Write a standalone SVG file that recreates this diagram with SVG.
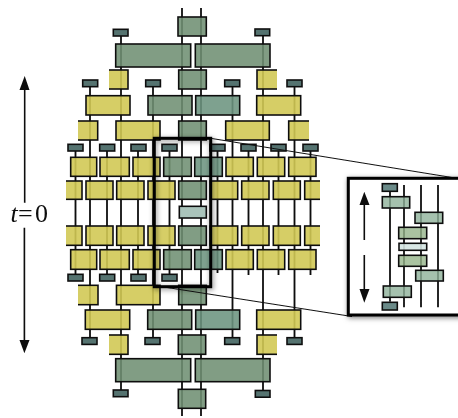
<svg xmlns="http://www.w3.org/2000/svg" width="458" height="418" viewBox="0 0 458 418">
<style>
.w{stroke:#111;stroke-width:1.8;fill:none}
.l{stroke:#111;stroke-width:1;fill:none}
.a{stroke:#111;stroke-width:1.6;fill:none}
.h{fill:#111;stroke:none}
rect{stroke:#111;stroke-width:1.6}
rect.fr{stroke:#000;stroke-width:3;fill:none}
rect.ins{stroke:#000;stroke-width:3;fill:#fff}
.g{fill:#6f8f72;fill-opacity:.88}
.b{fill:#6c9480;fill-opacity:.88}
.y{fill:#d2c954;fill-opacity:.9}
.c{fill:#557370}
.p{fill:#aac4bb}
.ig{fill:#8fb19a;fill-opacity:.8}
.im{fill:#95b48a;fill-opacity:.8}
.ip{fill:#d5e6e2;fill-opacity:.9}
.ic{fill:#6a8a88}
.t{font-family:"Liberation Serif",serif;font-size:26px;fill:#111}
</style>
<defs>
<filter id="soft" x="-5%" y="-5%" width="110%" height="110%"><feGaussianBlur stdDeviation="0.35"/></filter>
<filter id="sh" x="-20%" y="-20%" width="140%" height="140%"><feDropShadow dx="1" dy="1.5" stdDeviation="2.500" flood-color="#000" flood-opacity=".5"/></filter>
<clipPath id="r3"><rect x="109" y="60" width="168" height="300"/></clipPath>
<clipPath id="r5"><rect x="78" y="100" width="231" height="220"/></clipPath>
<clipPath id="r7"><rect x="66" y="170" width="254" height="90"/></clipPath>
</defs>
<g filter="url(#soft)">
<g id="connectors">
<path class="w" d="M182 8V416M201 8V416M121 32V393M263 32V393M90 83V341M153 83V341M232.500 83V341M294.500 83V341M75.500 147V277M107 147V277M138 147V277M169.500 147V277M217.500 147V273M248.500 147V275M278.500 147V275M310.500 147V275"/>
</g>
<g id="nodes">
<g id="n-top"><rect class="g" x="178" y="17" width="28.300" height="19"/></g>
<g id="n-cap-t1"><rect class="c" x="113.300" y="29.300" width="14.700" height="6.700"/></g>
<g id="n-cap-t2"><rect class="c" x="255" y="29" width="14.700" height="6.700"/></g>
<g id="n-r2a"><rect class="g" x="115.700" y="44" width="75" height="23"/></g>
<g id="n-r2b"><rect class="g" x="195.300" y="44" width="74.700" height="23"/></g>
<g id="n-r3a"><rect class="y" x="100" y="70" width="28" height="19" clip-path="url(#r3)"/></g>
<g id="n-r3b"><rect class="g" x="178.700" y="70" width="27.600" height="19"/></g>
<g id="n-r3c"><rect class="y" x="257" y="70" width="30" height="19" clip-path="url(#r3)"/></g>
<g id="n-cap-a1"><rect class="c" x="82.700" y="80" width="15" height="6.700"/></g>
<g id="n-cap-a2"><rect class="c" x="145.700" y="80" width="14.700" height="6.700"/></g>
<g id="n-cap-a3"><rect class="c" x="224.700" y="80" width="15" height="6.700"/></g>
<g id="n-cap-a4"><rect class="c" x="287" y="80" width="15" height="6.700"/></g>
<g id="n-r4a"><rect class="y" x="86" y="95.700" width="44" height="19.300"/></g>
<g id="n-r4b"><rect class="g" x="148" y="95.700" width="44" height="19.300"/></g>
<g id="n-r4c"><rect class="b" x="195.700" y="95.700" width="44" height="19.300"/></g>
<g id="n-r4d"><rect class="y" x="256.700" y="95.700" width="44" height="19.300"/></g>
<g id="n-r5a"><rect class="y" x="68" y="121" width="29.700" height="19" clip-path="url(#r5)"/></g>
<g id="n-r5b"><rect class="y" x="116" y="121" width="44" height="19"/></g>
<g id="n-r5c"><rect class="g" x="178.700" y="121" width="27.600" height="19"/></g>
<g id="n-r5d"><rect class="y" x="225.700" y="121" width="43.600" height="19"/></g>
<g id="n-r5e"><rect class="y" x="288.700" y="121" width="30" height="19" clip-path="url(#r5)"/></g>
<g id="n-cap-b1"><rect class="c" x="68" y="144.300" width="15" height="6.700"/></g>
<g id="n-cap-b2"><rect class="c" x="99.700" y="144.300" width="15" height="6.700"/></g>
<g id="n-cap-b3"><rect class="c" x="131" y="144.300" width="15" height="6.700"/></g>
<g id="n-cap-b4"><rect class="c" x="162" y="144.300" width="15" height="6.700"/></g>
<g id="n-cap-b5"><rect class="c" x="210" y="144.300" width="15" height="6.700"/></g>
<g id="n-cap-b6"><rect class="c" x="241" y="144.300" width="15" height="6.700"/></g>
<g id="n-cap-b7"><rect class="c" x="271" y="144.300" width="15" height="6.700"/></g>
<g id="n-cap-b8"><rect class="c" x="303" y="144.300" width="15" height="6.700"/></g>
<g id="n-r6a"><rect class="y" x="70.700" y="157.300" width="26" height="19"/></g>
<g id="n-r6b"><rect class="y" x="100" y="157.300" width="29.300" height="19"/></g>
<g id="n-r6c"><rect class="y" x="133" y="157.300" width="27" height="19"/></g>
<g id="n-r6d"><rect class="g" x="163.700" y="157.300" width="27.600" height="19"/></g>
<g id="n-r6e"><rect class="b" x="194.700" y="157.300" width="27.600" height="19"/></g>
<g id="n-r6f"><rect class="y" x="226" y="157.300" width="27.300" height="19"/></g>
<g id="n-r6g"><rect class="y" x="257.300" y="157.300" width="27.400" height="19"/></g>
<g id="n-r6h"><rect class="y" x="288.700" y="157.300" width="27.300" height="19"/></g>
<g id="n-r7a"><rect class="y" x="56" y="181" width="26" height="18.300" clip-path="url(#r7)"/></g>
<g id="n-r7b"><rect class="y" x="86" y="181" width="27" height="18.300"/></g>
<g id="n-r7c"><rect class="y" x="116.700" y="181" width="27.300" height="18.300"/></g>
<g id="n-r7d"><rect class="y" x="148" y="181" width="27" height="18.300"/></g>
<g id="n-r7e"><rect class="g" x="178.700" y="181" width="27.600" height="18.300"/></g>
<g id="n-r7f"><rect class="y" x="210.300" y="181" width="27.400" height="18.300"/></g>
<g id="n-r7g"><rect class="y" x="241.700" y="181" width="27.300" height="18.300"/></g>
<g id="n-r7h"><rect class="y" x="273.300" y="181" width="27" height="18.300"/></g>
<g id="n-r7i"><rect class="y" x="304.700" y="181" width="26" height="18.300" clip-path="url(#r7)"/></g>
<g id="n-center"><rect class="p" x="179.300" y="206.300" width="27" height="11.700"/></g>
<g id="n-r8a"><rect class="y" x="56" y="226" width="26" height="19.300" clip-path="url(#r7)"/></g>
<g id="n-r8b"><rect class="y" x="86" y="226" width="27" height="19.300"/></g>
<g id="n-r8c"><rect class="y" x="116.700" y="226" width="27.300" height="19.300"/></g>
<g id="n-r8d"><rect class="y" x="148" y="226" width="27" height="19.300"/></g>
<g id="n-r8e"><rect class="g" x="178.700" y="226" width="27.600" height="19.300"/></g>
<g id="n-r8f"><rect class="y" x="210.300" y="226" width="27.400" height="19.300"/></g>
<g id="n-r8g"><rect class="y" x="241.700" y="226" width="27.300" height="19.300"/></g>
<g id="n-r8h"><rect class="y" x="273.300" y="226" width="27" height="19.300"/></g>
<g id="n-r8i"><rect class="y" x="304.700" y="226" width="26" height="19.300" clip-path="url(#r7)"/></g>
<g id="n-r9a"><rect class="y" x="70.700" y="249.700" width="26" height="19.600"/></g>
<g id="n-r9b"><rect class="y" x="100" y="249.700" width="29.300" height="19.600"/></g>
<g id="n-r9c"><rect class="y" x="133" y="249.700" width="27" height="19.600"/></g>
<g id="n-r9d"><rect class="g" x="163.700" y="249.700" width="27.600" height="19.600"/></g>
<g id="n-r9e"><rect class="b" x="194.700" y="249.700" width="27.600" height="19.600"/></g>
<g id="n-r9f"><rect class="y" x="226" y="249.700" width="27.300" height="19.600"/></g>
<g id="n-r9g"><rect class="y" x="257.300" y="249.700" width="27.400" height="19.600"/></g>
<g id="n-r9h"><rect class="y" x="288.700" y="249.700" width="27.300" height="19.600"/></g>
<g id="n-cap-c1"><rect class="c" x="68" y="274.300" width="15" height="6.700"/></g>
<g id="n-cap-c2"><rect class="c" x="99.700" y="274.300" width="15" height="6.700"/></g>
<g id="n-cap-c3"><rect class="c" x="131" y="274.300" width="15" height="6.700"/></g>
<g id="n-cap-c4"><rect class="c" x="162" y="274.300" width="15" height="6.700"/></g>
<g id="n-r10a"><rect class="y" x="68" y="285.300" width="30" height="19.400" clip-path="url(#r5)"/></g>
<g id="n-r10b"><rect class="y" x="116.500" y="285.300" width="43.500" height="19.400"/></g>
<g id="n-r10c"><rect class="g" x="178.700" y="285.300" width="27.600" height="19.400"/></g>
<g id="n-r11a"><rect class="y" x="85.300" y="310" width="44.400" height="19.300"/></g>
<g id="n-r11b"><rect class="g" x="147.700" y="310" width="44" height="19.300"/></g>
<g id="n-r11c"><rect class="b" x="195.700" y="310" width="44" height="19.300"/></g>
<g id="n-r11d"><rect class="y" x="256.700" y="310" width="44" height="19.300"/></g>
<g id="n-cap-d1"><rect class="c" x="82" y="337.700" width="15" height="6.700"/></g>
<g id="n-cap-d2"><rect class="c" x="145" y="337.700" width="15" height="6.700"/></g>
<g id="n-cap-d3"><rect class="c" x="224.700" y="337.700" width="15" height="6.700"/></g>
<g id="n-cap-d4"><rect class="c" x="287" y="337.700" width="15" height="6.700"/></g>
<g id="n-r12a"><rect class="y" x="98" y="335" width="30" height="19.300" clip-path="url(#r3)"/></g>
<g id="n-r12b"><rect class="g" x="178.300" y="335" width="27.400" height="19.300"/></g>
<g id="n-r12c"><rect class="y" x="257" y="335" width="30" height="19.300" clip-path="url(#r3)"/></g>
<g id="n-r13a"><rect class="g" x="115.700" y="358.700" width="75" height="23"/></g>
<g id="n-r13b"><rect class="g" x="195.300" y="358.700" width="74.700" height="23"/></g>
<g id="n-cap-e1"><rect class="c" x="113.300" y="390" width="14.700" height="6.700"/></g>
<g id="n-cap-e2"><rect class="c" x="255.300" y="390.500" width="14.700" height="6.700"/></g>
<g id="n-bottom"><rect class="g" x="178.300" y="389.300" width="27.400" height="19"/></g>
</g>
<g id="callout">
<path class="l" d="M210.700 138.300L452 177.500M154.300 285.500L352 316.500"/>
<rect class="fr" x="154.300" y="138.300" width="56.400" height="148.400" filter="url(#sh)"/>
</g>
<g id="time-axis">
<path class="a" d="M24.700 88V202.700M24.400 227.700V342"/>
<path class="h" d="M24.700 76L29.500 90H19.500ZM24.400 353.300L19.500 340H29.500Z"/>
<text class="t" x="10.500" y="222" font-style="italic">t</text>
<text class="t" x="18" y="222" textLength="30">=0</text>
</g>
<g id="inset">
<rect class="ins" x="348.300" y="178.300" width="125" height="136.700" filter="url(#sh)"/>
<path class="a" d="M364.300 203V240M364.300 255V291"/>
<path class="h" d="M364.300 191.700L369.500 205H359.500ZM364.300 302.700L359.500 289H369.500Z"/>
<path class="w" d="M390 191V301.700M404 185V307.300M421 185V307.300M438 185V307.300"/>
<g id="i-cap1"><rect class="ic" x="382.300" y="183.700" width="15" height="7.600"/></g>
<g id="i-b1"><rect class="ig" x="382.300" y="196.700" width="27.400" height="11.300"/></g>
<g id="i-b2"><rect class="ig" x="415" y="212.300" width="27.700" height="11"/></g>
<g id="i-b3"><rect class="im" x="398.700" y="227.300" width="28" height="11.400"/></g>
<g id="i-b4"><rect class="ip" x="399" y="243.300" width="27.700" height="7"/></g>
<g id="i-b5"><rect class="im" x="398.700" y="255.300" width="28" height="11"/></g>
<g id="i-b6"><rect class="ig" x="415.700" y="270.300" width="27.600" height="10.700"/></g>
<g id="i-b7"><rect class="ig" x="383.300" y="286" width="28" height="11.300"/></g>
<g id="i-cap2"><rect class="ic" x="382.300" y="302.300" width="15" height="7.700"/></g>
</g>
</g>
</svg>
